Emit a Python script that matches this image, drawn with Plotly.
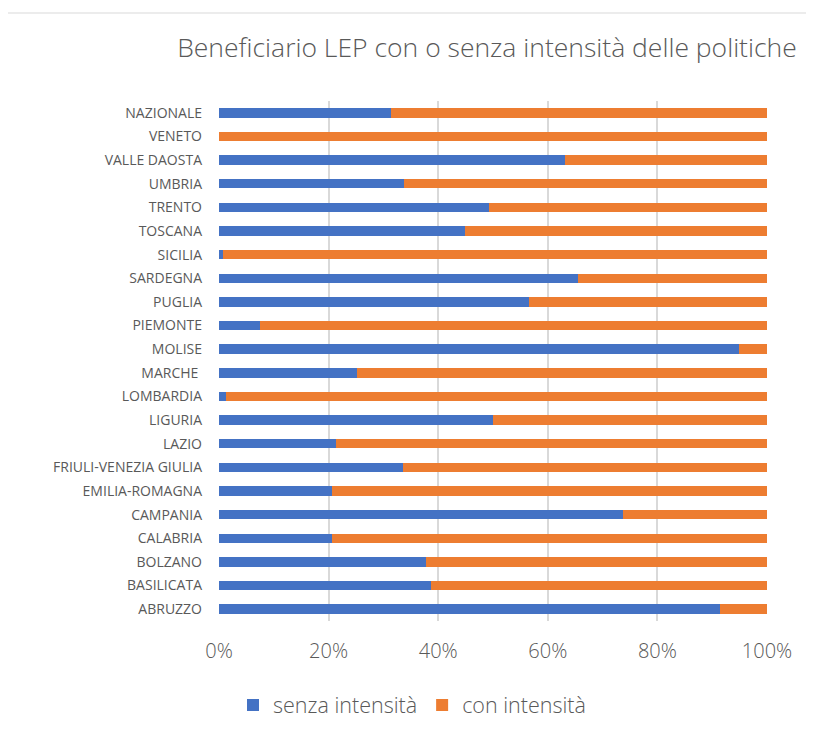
import plotly.graph_objects as go

categories = ["ABRUZZO", "BASILICATA", "BOLZANO", "CALABRIA", "CAMPANIA", "EMILIA-ROMAGNA",
              "FRIULI-VENEZIA GIULIA", "LAZIO", "LIGURIA", "LOMBARDIA", "MARCHE ", "MOLISE",
              "PIEMONTE", "PUGLIA", "SARDEGNA", "SICILIA", "TOSCANA", "TRENTO", "UMBRIA",
              "VALLE DAOSTA", "VENETO", "NAZIONALE"]
senza = [91.5, 38.7, 37.8, 20.6, 73.8, 20.7, 33.6, 21.4, 50.0, 1.3, 25.2, 94.9,
         7.5, 56.6, 65.6, 0.7, 44.9, 49.3, 33.8, 63.1, 0.0, 31.4]
con = [100 - v for v in senza]

TEXT = "#595959"
fig = go.Figure()
fig.add_trace(go.Bar(y=categories, x=senza, orientation="h", name="senza intensità",
                     marker=dict(color="#4472C4", line=dict(width=0))))
fig.add_trace(go.Bar(y=categories, x=con, orientation="h", name="con intensità",
                     marker=dict(color="#ED7D31", line=dict(width=0))))

# page body adds an 8px offset; positions below compensate for it
fig.update_layout(
    width=814, height=736,
    barmode="stack", bargap=0.6,
    plot_bgcolor="white", paper_bgcolor="white",
    margin=dict(l=211, r=55, t=93, b=123),
    font=dict(family="Open Sans", color=TEXT),
    title=dict(text="Beneficiario LEP con o senza intensità delle politiche",
               x=479 / 814, xanchor="center", xref="container",
               y=1 - 40 / 736, yanchor="middle", yref="container",
               font=dict(size=26.5, color=TEXT, weight=300)),
    xaxis=dict(range=[0, 100], tickvals=[0, 20, 40, 60, 80, 100],
               ticktext=["0%", "20%", "40%", "60%", "80%", "100%"],
               showgrid=True, gridcolor="#D9D9D9", gridwidth=1.5,
               zeroline=False, showline=False,
               tickfont=dict(size=20, color=TEXT, weight=300), ticklabelstandoff=16),
    yaxis=dict(categoryorder="array", categoryarray=categories,
               showgrid=False, zeroline=False, showline=False,
               tickfont=dict(size=14, color=TEXT), ticklabelstandoff=16),
    legend=dict(orientation="h", traceorder="normal",
                xref="container", x=404 / 814, xanchor="center",
                yref="container", y=1 - 697 / 736, yanchor="middle",
                font=dict(size=21.5, color=TEXT, weight=300), itemwidth=30),
    shapes=[dict(type="rect", xref="paper", yref="paper",
                 x0=(-3 - 211) / 548, x1=(805 - 211) / 548,
                 y0=-(760 - 613) / 520, y1=1 + (93 - 5) / 520,
                 line=dict(color="#D9D9D9", width=1), layer="below")],
)

fig.write_html("out.html")
